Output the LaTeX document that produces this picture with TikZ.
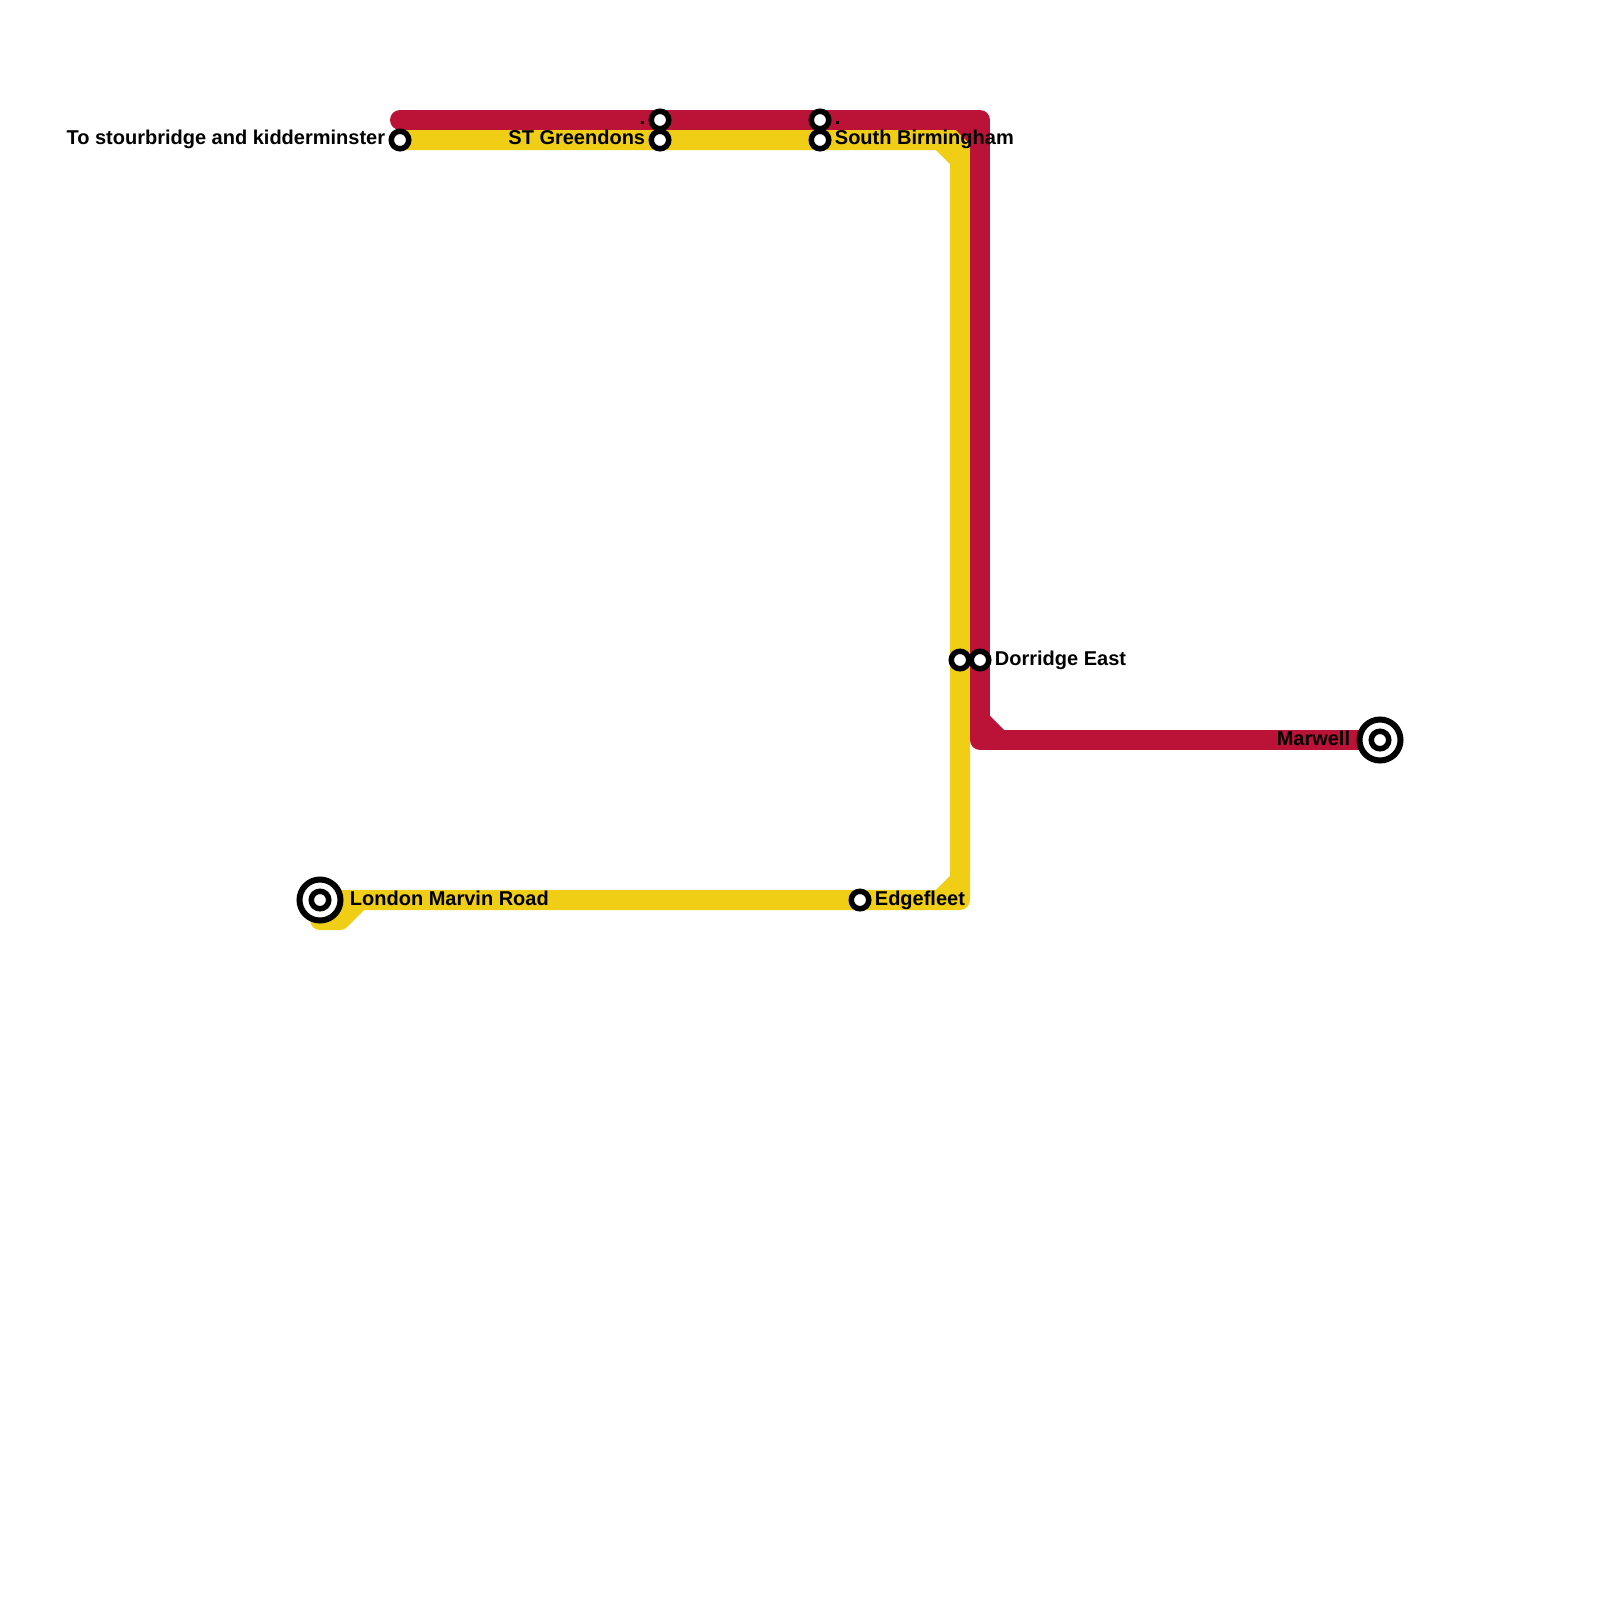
\documentclass[tikz,border=0pt]{standalone}
\usepackage{fontspec}
\setmainfont{Liberation Sans}
\usepackage{xcolor}
\usepackage{tikz}
\usetikzlibrary{positioning,backgrounds}
\definecolor{linered}{HTML}{BB1238}
\definecolor{lineyellow}{HTML}{F0CE15}

\begin{document}
\begin{tikzpicture}[x=0.5pt, y=-0.5pt,
  track/.style={line width=10pt, line cap=round, line join=round},
  redtrack/.style={track, linered},
  yellowtrack/.style={track, lineyellow},
  stn/.style={circle, draw=black, fill=white, line width=2.75pt, minimum size=8.75pt, inner sep=0pt},
  term/.style={stn, line width=3pt, minimum size=20.5pt},
  lbl/.style={font=\bfseries\fontsize{10}{12}\selectfont, text=black, inner sep=0pt, text height=7pt, text depth=2pt},
  node distance=1.5pt and 1.5pt]
\useasboundingbox (0,0) rectangle (1600,1600);
\node[stn] (stour) at (400,140) {};
\node[stn] (greenT) at (660,120) {};
\node[stn] (greenB) at (660,140) {};
\node[stn] (birmT) at (820,120) {};
\node[stn] (birmB) at (820,140) {};
\node[stn] (dorrY) at (960,660) {};
\node[stn] (dorrR) at (980,660) {};
\node[stn] (edge) at (860,900) {};
\node[term] (london) at (320,900) {};
\node[stn] (londonC) at (london.center) {};
\node[term] (marwell) at (1380,740) {};
\node[stn] (marwellC) at (marwell.center) {};
\coordinate (redStart) at (400,120);
\coordinate (redTop) at (980,120);
\coordinate (redLow) at (980,740);
\coordinate (yelTop) at (960,140);
\coordinate (yelLow) at (960,900);
\coordinate (yelDrop) at (320,920);
\coordinate (yelKink) at (340,920);
\coordinate (yelJoin) at (360,900);
\node[lbl, left=of stour] {To stourbridge and kidderminster};
\node[lbl, left=of greenT] {.};
\node[lbl, left=of greenB] {ST Greendons};
\node[lbl, right=of birmT] {.};
\node[lbl, right=of birmB] {South Birmingham};
\node[lbl, right=of dorrR] {Dorridge East};
\node[lbl, right=of edge] {Edgefleet};
\node[lbl, right=3pt of london] {London Marvin Road};
\node[lbl, left=3pt of marwell] {Marwell};
\begin{scope}[on background layer]
\draw[yellowtrack] (stour.center) -- (yelTop) -- (dorrY.center) -- (yelLow) -- (edge.center) -- (yelJoin) -- (london.center) -- (yelDrop) -- (yelKink) -- (yelJoin);
\draw[yellowtrack] (940,140) -- (960,160);
\draw[yellowtrack] (960,880) -- (940,900);
\draw[redtrack] (redStart) -- (greenT.center) -- (birmT.center) -- (redTop) -- (dorrR.center) -- (redLow) -- (marwell.center);
\draw[redtrack] (960,120) -- (980,140);
\draw[redtrack] (980,720) -- (1000,740);
\end{scope}
\end{tikzpicture}
\end{document}
